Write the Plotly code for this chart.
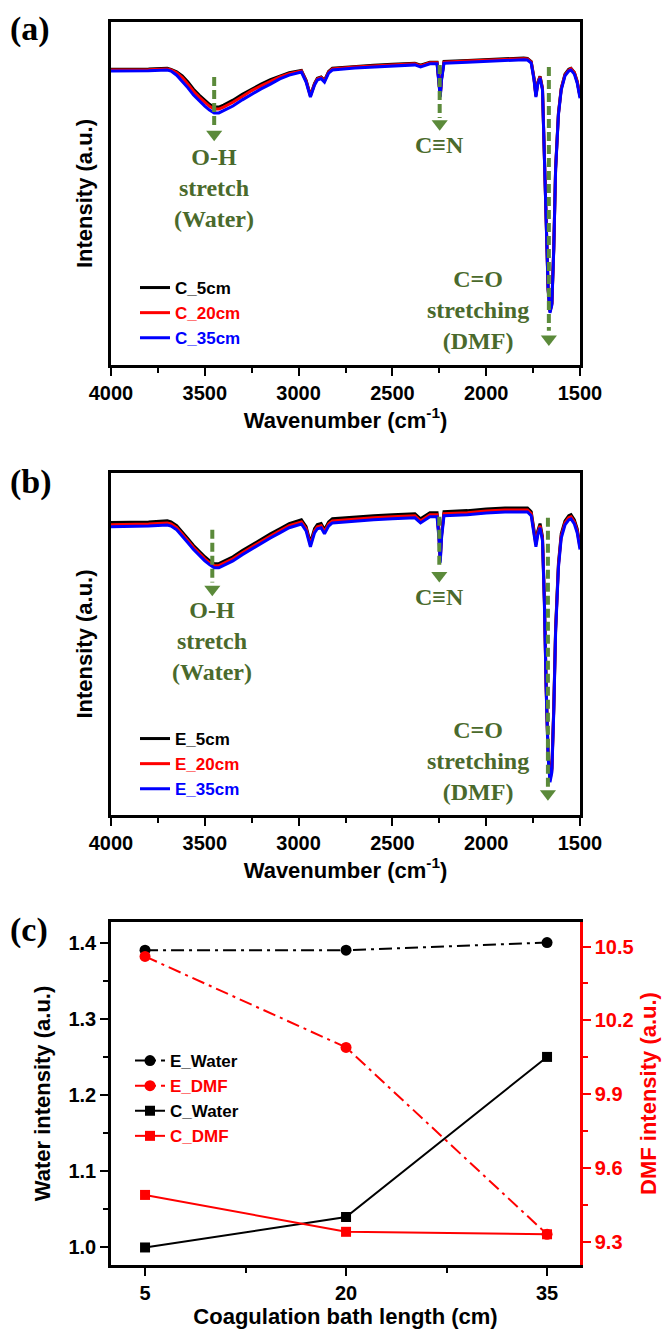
import plotly.graph_objects as go

# ---------------- FTIR spectra (panels a, b) ----------------
WAVENUMBER = [4000, 3900, 3800, 3700, 3680, 3650, 3620, 3590, 3560, 3530,
              3500, 3475, 3450, 3425, 3400, 3350, 3300, 3250, 3200, 3150,
              3100, 3050, 2985, 2960, 2937, 2915, 2900, 2880, 2862, 2840,
              2820, 2700, 2600, 2500, 2400, 2380, 2350, 2300, 2262, 2252,
              2245, 2238, 2225, 2100, 2000, 1900, 1800, 1780, 1760, 1745,
              1735, 1725, 1713, 1700, 1690, 1680, 1670, 1660, 1650, 1640,
              1630, 1615, 1600, 1580, 1560, 1548, 1530, 1515, 1500]

C_5CM = [86.2, 86.2, 86.3, 86.5, 86.2, 85.5, 84.3, 82.5, 80.4, 78.7,
         77.2, 76.0, 75.2, 75.2, 75.8, 77.2, 78.9, 80.5, 81.9, 83.2,
         84.3, 85.2, 85.9, 83.0, 78.6, 82.1, 83.6, 84.0, 83.0, 85.6,
         86.5, 87.1, 87.4, 87.7, 88.0, 88.0, 87.4, 88.3, 88.3, 83.6,
         78.6, 83.6, 88.5, 88.8, 89.1, 89.4, 89.5, 89.4, 88.5, 83.6,
         78.6, 82.4, 84.2, 80.7, 63.2, 39.9, 22.4, 15.7, 18.0, 34.0,
         57.4, 73.4, 80.7, 84.8, 86.2, 86.5, 85.3, 82.7, 78.3]
C_20CM = [86.0, 86.0, 86.1, 86.3, 86.0, 85.2, 83.8, 81.9, 79.8, 78.1,
          76.6, 75.4, 74.6, 74.6, 75.2, 76.6, 78.3, 80.0, 81.4, 82.7,
          84.0, 84.9, 85.7, 82.8, 78.4, 81.9, 83.4, 83.8, 82.8, 85.4,
          86.3, 86.9, 87.2, 87.5, 87.8, 87.8, 87.2, 88.1, 88.1, 83.4,
          78.4, 83.4, 88.3, 88.6, 88.9, 89.2, 89.3, 89.2, 88.3, 83.4,
          78.4, 82.2, 84.0, 80.5, 63.0, 39.7, 22.2, 15.5, 17.8, 33.8,
          57.2, 73.2, 80.5, 84.6, 86.0, 86.4, 85.2, 82.6, 78.4]
C_35CM = [85.7, 85.7, 85.8, 86.0, 85.7, 84.5, 82.8, 80.8, 78.7, 77.0,
          75.5, 74.3, 73.5, 73.5, 74.1, 75.5, 77.3, 79.0, 80.5, 81.9,
          83.4, 84.5, 85.4, 82.5, 78.1, 81.6, 83.1, 83.5, 82.5, 85.1,
          86.0, 86.6, 86.9, 87.2, 87.5, 87.5, 86.9, 87.8, 87.8, 83.1,
          78.1, 83.1, 88.0, 88.3, 88.6, 88.9, 89.0, 88.9, 88.0, 83.1,
          78.1, 81.9, 83.7, 80.2, 62.7, 39.4, 21.9, 15.2, 17.5, 33.5,
          56.9, 72.9, 80.2, 84.3, 85.7, 86.0, 84.8, 82.2, 77.8]

E_5CM = [85.5, 85.5, 85.7, 86.0, 85.7, 84.6, 82.8, 80.8, 78.8, 77.0,
         75.5, 74.4, 73.5, 73.5, 74.1, 75.5, 77.3, 79.0, 80.5, 82.2,
         83.7, 85.2, 86.3, 84.3, 79.6, 83.7, 84.9, 85.2, 83.4, 85.7,
         86.6, 87.2, 87.5, 87.8, 88.1, 88.1, 86.6, 88.4, 88.4, 82.2,
         75.0, 82.2, 88.7, 89.0, 89.5, 89.8, 89.8, 89.8, 88.7, 83.7,
         79.6, 83.1, 85.2, 81.4, 63.3, 37.1, 18.1, 10.8, 13.7, 31.2,
         54.6, 73.5, 82.2, 86.0, 87.5, 87.8, 86.3, 83.7, 78.8]
E_20CM = [84.9, 84.9, 85.1, 85.4, 85.1, 84.0, 82.2, 80.2, 78.2, 76.4,
          74.9, 73.8, 72.9, 72.9, 73.5, 74.9, 76.7, 78.4, 79.9, 81.6,
          83.1, 84.6, 85.7, 83.7, 79.0, 83.1, 84.3, 84.6, 82.8, 85.1,
          86.0, 86.6, 86.9, 87.2, 87.5, 87.5, 86.0, 87.8, 87.8, 81.6,
          74.4, 81.6, 88.1, 88.4, 88.9, 89.2, 89.2, 89.2, 88.1, 83.1,
          79.0, 82.5, 84.6, 80.8, 62.7, 36.5, 17.5, 10.2, 13.1, 30.6,
          54.0, 72.9, 81.6, 85.4, 86.9, 87.2, 85.7, 83.1, 78.2]
E_35CM = [84.3, 84.3, 84.5, 84.8, 84.5, 83.4, 81.6, 79.6, 77.6, 75.8,
          74.3, 73.2, 72.3, 72.3, 72.9, 74.3, 76.1, 77.8, 79.3, 81.0,
          82.5, 84.0, 85.1, 83.1, 78.4, 82.5, 83.7, 84.0, 82.2, 84.5,
          85.4, 86.0, 86.3, 86.6, 86.9, 86.9, 85.4, 87.2, 87.2, 81.0,
          73.8, 81.0, 87.5, 87.8, 88.3, 88.6, 88.6, 88.6, 87.5, 82.5,
          78.4, 81.9, 84.0, 80.2, 62.1, 35.9, 16.9, 9.6, 12.5, 30.0,
          53.4, 72.3, 81.0, 84.8, 86.3, 86.6, 85.1, 82.5, 77.6]

# ---------------- Peak intensities vs. bath length (panel c) ----------------
BATH_LENGTH = [5, 20, 35]
E_WATER = [1.39, 1.39, 1.40]
E_DMF = [10.46, 10.09, 9.33]
C_WATER = [1.00, 1.04, 1.25]
C_DMF = [9.49, 9.34, 9.33]

SANS = "Arial, 'Liberation Sans', sans-serif"
SERIF = "'Times New Roman', 'Liberation Serif', serif"
GREEN_LINE = "#5B8A3A"
GREEN_TEXT = "#4A6A2C"
RED = "#FF0000"
BLUE = "#0000FF"
BLACK = "#000000"
CLEAR = "rgba(0,0,0,0)"

W, H = 666, 1330
XDOM = [111 / W, 580 / W]
YDOM_A = [1 - 365 / H, 1 - 22 / H]
YDOM_B = [1 - 815 / H, 1 - 473 / H]
YDOM_C = [1 - 1265 / H, 1 - 922 / H]

fig = go.Figure()


def colored(text, color):
    return f"<span style='color:{color}'>{text}</span>"


# spectra
for xa, ya, leg, names, series in [
    ("x", "y", "legend", ["C_5cm", "C_20cm", "C_35cm"], [C_5CM, C_20CM, C_35CM]),
    ("x2", "y2", "legend2", ["E_5cm", "E_20cm", "E_35cm"], [E_5CM, E_20CM, E_35CM]),
]:
    for name, vals, col in zip(names, series, [BLACK, RED, BLUE]):
        fig.add_trace(go.Scatter(
            x=WAVENUMBER, y=vals, mode="lines", name=colored(name, col),
            line=dict(color=col, width=3), xaxis=xa, yaxis=ya, legend=leg))

# band markers: dashed guide line ending in an arrow head
bands = [
    # axis suffix, x, y_top, y_end, y_head, label, label_y
    ("", 3450, 84.0, 69.3, 67.3, "O-H<br>stretch<br>(Water)", 51.6),
    ("", 2248, 87.5, 72.0, 70.3, "C\u2261N", 64.1),
    ("", 1666, 86.9, 10.0, 7.6, None, None),
    ("2", 3460, 83.4, 68.0, 66.0, "O-H<br>stretch<br>(Water)", 51.0),
    ("2", 2250, 87.2, 72.0, 70.0, "C\u2261N", 63.6),
    ("2", 1671, 86.9, 8.2, 6.2, None, None),
]
for ax, xv, ytop, yend, yhead, label, ly in bands:
    fig.add_trace(go.Scatter(
        x=[xv, xv], y=[ytop, yend], mode="lines", showlegend=False,
        line=dict(color=GREEN_LINE, width=4, dash="9px,4px"),
        xaxis="x" + ax, yaxis="y" + ax))
    fig.add_trace(go.Scatter(
        x=[xv], y=[yhead], mode="markers", showlegend=False,
        marker=dict(symbol="triangle-down", size=14, color=GREEN_LINE),
        xaxis="x" + ax, yaxis="y" + ax))
    if label:
        fig.add_annotation(x=xv, y=ly, xref="x" + ax, yref="y" + ax,
                           text=label, showarrow=False, align="center",
                           font=dict(family=SERIF, size=24, color=GREEN_TEXT,
                                     weight="bold"))

for ax, yc in [("", 16.0), ("2", 15.7)]:
    fig.add_annotation(x=2045, y=yc, xref="x" + ax, yref="y" + ax,
                       text="C=O<br>stretching<br>(DMF)", showarrow=False,
                       align="center",
                       font=dict(family=SERIF, size=24, color=GREEN_TEXT,
                                 weight="bold"))

# panel (c)
DASHDOT = "13px,5px,3px,5px"
fig.add_trace(go.Scatter(
    x=BATH_LENGTH, y=E_WATER, name="E_Water", mode="lines+markers",
    line=dict(color=BLACK, width=2, dash=DASHDOT),
    marker=dict(symbol="circle", size=11, color=BLACK),
    xaxis="x3", yaxis="y3", legend="legend3", legendrank=1))
fig.add_trace(go.Scatter(
    x=BATH_LENGTH, y=C_WATER, name="C_Water", mode="lines+markers",
    line=dict(color=BLACK, width=2),
    marker=dict(symbol="square", size=10, color=BLACK),
    xaxis="x3", yaxis="y3", legend="legend3", legendrank=3))
fig.add_trace(go.Scatter(
    x=BATH_LENGTH, y=C_DMF, name=colored("C_DMF", RED), mode="lines+markers",
    line=dict(color=RED, width=2),
    marker=dict(symbol="square", size=10, color=RED),
    xaxis="x3", yaxis="y4", legend="legend3", legendrank=4))
fig.add_trace(go.Scatter(
    x=BATH_LENGTH, y=E_DMF, name=colored("E_DMF", RED), mode="lines+markers",
    line=dict(color=RED, width=2, dash=DASHDOT),
    marker=dict(symbol="circle", size=11, color=RED),
    xaxis="x3", yaxis="y4", legend="legend3", legendrank=2))

TICKFONT = dict(family=SANS, size=20, color=BLACK, weight="bold")
TITLEFONT = dict(family=SANS, size=22, color=BLACK, weight="bold")


def spec_x(anchor):
    return dict(
        domain=XDOM, anchor=anchor, range=[4000, 1500], automargin=False,
        tickmode="linear", tick0=1500, dtick=500,
        ticks="outside", ticklen=8, tickwidth=2, tickcolor=BLACK,
        minor=dict(ticks="outside", tickmode="linear", tick0=1500, dtick=250,
                   ticklen=5, tickwidth=2, tickcolor=BLACK),
        showline=True, linewidth=2.5, linecolor=BLACK, mirror=True,
        showgrid=False, zeroline=False, tickfont=TICKFONT,
        title=dict(text="Wavenumber (cm<sup>-1</sup>)", font=TITLEFONT,
                   standoff=10))


def spec_y(domain, anchor):
    return dict(
        domain=domain, anchor=anchor, range=[0, 100], automargin=False,
        showticklabels=False, ticks="", showline=True,
        linewidth=2.5, linecolor=BLACK, mirror=True, showgrid=False,
        zeroline=False,
        title=dict(text="Intensity (a.u.)", font=TITLEFONT, standoff=10))


legend_common = dict(font=dict(family=SANS, size=17, color=BLACK, weight="bold"),
                     bgcolor=CLEAR, borderwidth=0, tracegroupgap=0,
                     xanchor="left", yanchor="top")

fig.update_layout(
    width=W, height=H, margin=dict(l=0, r=0, t=0, b=0, autoexpand=False),
    paper_bgcolor="#FFFFFF", plot_bgcolor="#FFFFFF", showlegend=True,
    hovermode=False,
    xaxis=spec_x("y"),
    yaxis=spec_y(YDOM_A, "x"),
    xaxis2=spec_x("y2"),
    yaxis2=spec_y(YDOM_B, "x2"),
    xaxis3=dict(
        domain=XDOM, anchor="y3", range=[2.46, 37.46], automargin=False,
        tickmode="linear", tick0=5, dtick=15, ticks="outside", ticklen=8,
        tickwidth=2, tickcolor=BLACK,
        minor=dict(ticks="outside", tick0=5, dtick=7.5, ticklen=5, tickwidth=2,
                   tickcolor=BLACK),
        showline=True, linewidth=2.5, linecolor=BLACK, mirror=True,
        showgrid=False, zeroline=False, tickfont=TICKFONT,
        title=dict(text="Coagulation bath length (cm)", font=TITLEFONT,
                   standoff=4)),
    yaxis3=dict(
        domain=YDOM_C, anchor="x3", range=[0.977, 1.427], automargin=False,
        tickmode="linear", tick0=1.0, dtick=0.1, tickformat=".1f",
        ticks="outside", ticklen=8, tickwidth=2, tickcolor=BLACK,
        minor=dict(ticks="outside", tick0=1.0, dtick=0.05, ticklen=5,
                   tickwidth=2, tickcolor=BLACK),
        showline=True, linewidth=2.5, linecolor=BLACK, mirror=False,
        showgrid=False, zeroline=False, tickfont=TICKFONT,
        title=dict(text="Water intensity (a.u.)", font=TITLEFONT, standoff=12)),
    yaxis4=dict(
        overlaying="y3", anchor="x3", side="right", range=[9.205, 10.60],
        automargin=False, tickmode="linear", tick0=9.3, dtick=0.3,
        tickformat=".1f", ticks="outside", ticklen=8, tickwidth=2,
        tickcolor=RED,
        minor=dict(ticks="outside", tick0=9.3, dtick=0.15, ticklen=5,
                   tickwidth=2, tickcolor=RED),
        showline=True, linewidth=2.5, linecolor=RED, showgrid=False,
        zeroline=False, tickfont=dict(TICKFONT, color=RED),
        title=dict(text="DMF intensity (a.u.)",
                   font=dict(TITLEFONT, color=RED), standoff=8)),
    legend=dict(legend_common, x=135 / W, y=1 - 270 / H),
    legend2=dict(legend_common, x=135 / W, y=1 - 721 / H),
    legend3=dict(legend_common, x=130 / W, y=1 - 1154 / H, yanchor="bottom",
                 traceorder="normal"),
)

for label, yc in [("(a)", 29), ("(b)", 482), ("(c)", 930)]:
    fig.add_annotation(x=8 / W, y=1 - yc / H, xref="paper", yref="paper",
                       xanchor="left", yanchor="middle", text=label,
                       showarrow=False,
                       font=dict(family=SERIF, size=34, color=BLACK,
                                 weight="bold"))

fig.write_html("out.html")
